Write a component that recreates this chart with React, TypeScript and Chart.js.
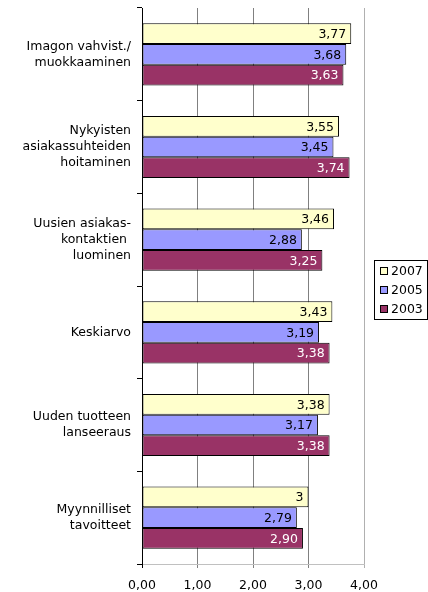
import React, { useEffect, useRef } from "react";
import { Chart, registerables } from "chart.js";

Chart.register(...registerables);

const categories: (string | string[])[] = [
  ["Imagon vahvist./", "muokkaaminen"],
  ["Nykyisten", "asiakassuhteiden", "hoitaminen"],
  ["Uusien asiakas-", "kontaktien ", "luominen"],
  "Keskiarvo",
  ["Uuden tuotteen", "lanseeraus"],
  ["Myynnilliset", "tavoitteet"],
];

const seriesNames = ["2007", "2005", "2003"];
const values2007 = [3.77, 3.55, 3.46, 3.43, 3.38, 3];
const values2005 = [3.68, 3.45, 2.88, 3.19, 3.17, 2.79];
const values2003 = [3.63, 3.74, 3.25, 3.38, 3.38, 2.9];
const seriesFormats = ["general", "0.00", "0.00"];
const xTicks = [0, 1, 2, 3, 4];

const fills = ["#FFFFCC", "#9999FF", "#993366"];
const labelColors = ["#000000", "#000000", "#FFFFFF"];
const FONT = "'DejaVu Sans', Verdana, sans-serif";

function fmt(v: number, f: string): string {
  if (f === "general") return String(v).replace(".", ",");
  return v.toFixed(2).replace(".", ",");
}

const valueLabelPlugin = {
  id: "valueLabels",
  afterDatasetsDraw(chart: any) {
    const ctx = chart.ctx;
    ctx.save();
    ctx.font = `12.5px ${FONT}`;
    ctx.textAlign = "right";
    ctx.textBaseline = "middle";
    chart.data.datasets.forEach((ds: any, di: number) => {
      const meta = chart.getDatasetMeta(di);
      meta.data.forEach((bar: any, i: number) => {
        ctx.fillStyle = labelColors[di];
        ctx.fillText(fmt(ds.data[i], seriesFormats[di]), bar.x - 5, bar.y + 1);
      });
    });
    ctx.restore();
  },
};

const legendPlugin = {
  id: "customLegend",
  afterDraw(chart: any) {
    const ctx = chart.ctx;
    const area = chart.chartArea;
    const boxLeft = area.right + 10;
    const boxW = 54;
    const itemH = 19;
    const boxH = itemH * seriesNames.length + 2;
    const midY = (area.top + area.bottom) / 2;
    const boxTop = Math.round(midY - boxH / 2) + 3;
    ctx.save();
    ctx.strokeStyle = "#000";
    ctx.lineWidth = 1;
    ctx.strokeRect(boxLeft + 0.5, boxTop + 0.5, boxW - 1, boxH);
    ctx.font = `12.5px ${FONT}`;
    ctx.textAlign = "left";
    ctx.textBaseline = "middle";
    seriesNames.forEach((name, i) => {
      const cy = boxTop + 11 + itemH * i;
      ctx.fillStyle = fills[i];
      ctx.fillRect(boxLeft + 6, cy - 4, 8, 8);
      ctx.strokeStyle = "#000";
      ctx.strokeRect(boxLeft + 6.5, cy - 3.5, 7, 7);
      ctx.fillStyle = "#000";
      ctx.fillText(name, boxLeft + 17, cy + 1);
    });
    ctx.restore();
  },
};

export default function App() {
  const canvasRef = useRef<HTMLCanvasElement | null>(null);

  useEffect(() => {
    if (!canvasRef.current) return;
    const data = [values2007, values2005, values2003];
    const chart = new Chart(canvasRef.current, {
      type: "bar",
      data: {
        labels: categories,
        datasets: seriesNames.map((name, i) => ({
          label: name,
          data: data[i],
          backgroundColor: fills[i],
          borderColor: "#000000",
          borderWidth: 1,
          borderSkipped: false,
          categoryPercentage: 0.67,
          barPercentage: 1.0,
        })),
      },
      options: {
        indexAxis: "y",
        responsive: false,
        animation: false,
        devicePixelRatio: 1,
        layout: { padding: { top: 8, right: 64, left: 0, bottom: 0 } },
        plugins: {
          legend: { display: false },
          tooltip: { enabled: false },
        },
        scales: {
          x: {
            min: 0,
            max: 4,
            afterBuildTicks: (scale: any) => {
              scale.ticks = xTicks.map((v) => ({ value: v }));
            },
            afterFit: (scale: any) => {
              scale.height = 28;
              scale.paddingLeft = 0;
              scale.paddingRight = 0;
              scale.paddingTop = 0;
              scale.paddingBottom = 0;
            },
            ticks: {
              color: "#000",
              font: { family: FONT, size: 12.5 },
              padding: 10,
              callback: (v: any) => Number(v).toFixed(2).replace(".", ","),
            },
            grid: {
              color: (c: any) =>
                c.index === 0 ? "rgba(0,0,0,0)" : c.index === xTicks.length - 1 ? "#b0b0b0" : "#808080",
              tickColor: (c: any) => (c.index === 0 ? "#000" : c.index === xTicks.length - 1 ? "#b0b0b0" : "#808080"),
              tickLength: 4,
              lineWidth: 1,
            },
            border: { color: "#c0c0c0", width: 1 },
          },
          y: {
            afterFit: (scale: any) => {
              scale.width = 142;
              scale.paddingLeft = 0;
              scale.paddingRight = 0;
              scale.paddingTop = 0;
              scale.paddingBottom = 0;
            },
            ticks: {
              color: "#000",
              font: { family: FONT, size: 12.5, lineHeight: 1.28 },
              padding: 6,
            },
            grid: {
              offset: true,
              drawOnChartArea: false,
              drawTicks: true,
              tickLength: 5,
              color: "#000",
            },
            border: { color: "#000", width: 1 },
          },
        },
      },
      plugins: [valueLabelPlugin, legendPlugin],
    } as any);
    return () => chart.destroy();
  }, []);

  return (
    <div style={{ position: "absolute", left: 0, top: 0, width: 428, height: 592, background: "#fff" }}>
      <canvas ref={canvasRef} width={428} height={592} style={{ display: "block" }} />
    </div>
  );
}
